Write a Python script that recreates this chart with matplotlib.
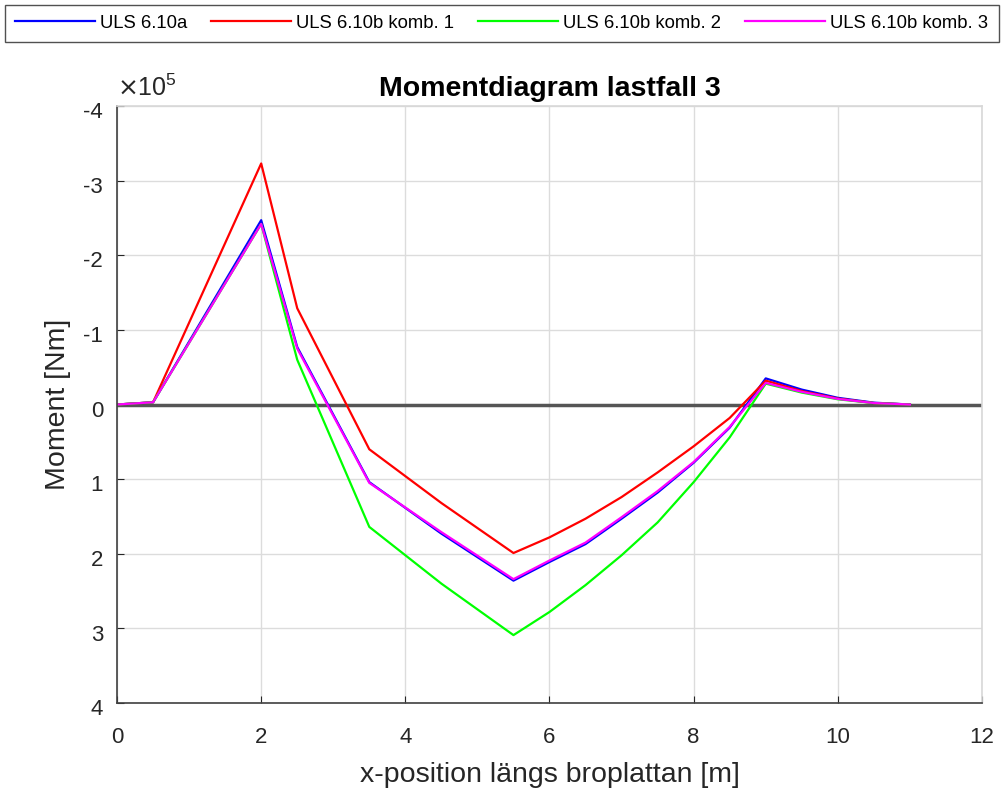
import matplotlib
matplotlib.use('Agg')
import matplotlib.pyplot as plt
import matplotlib.transforms as mtransforms

plt.rcParams['font.family'] = ['Liberation Sans', 'DejaVu Sans']
plt.rcParams['axes.unicode_minus'] = False

# moment values in units of 1e5 Nm (negative = up, axis is reversed)
x_pos = [0, 0.5, 2, 2.5, 3.5, 4.5, 5.5, 6, 6.5, 7, 7.5, 8, 8.5, 9, 9.5, 10, 10.5, 11]
uls_610a = [0, -0.03, -2.47, -0.77, 1.04, 1.73, 2.36, 2.11, 1.87, 1.53, 1.18, 0.78, 0.31,
            -0.35, -0.2, -0.09, -0.025, 0]
uls_610b_k1 = [0, -0.03, -3.23, -1.29, 0.6, 1.32, 1.99, 1.78, 1.53, 1.24, 0.91, 0.56, 0.18,
               -0.32, -0.18, -0.08, -0.02, 0]
uls_610b_k2 = [0, -0.03, -2.42, -0.6, 1.64, 2.4, 3.09, 2.78, 2.42, 2.02, 1.58, 1.04, 0.44,
               -0.28, -0.16, -0.07, -0.02, 0]
uls_610b_k3 = [0, -0.03, -2.42, -0.75, 1.05, 1.71, 2.34, 2.09, 1.85, 1.51, 1.16, 0.77, 0.3,
               -0.29, -0.17, -0.075, -0.02, 0]
labels = ['ULS 6.10a', 'ULS 6.10b komb. 1', 'ULS 6.10b komb. 2', 'ULS 6.10b komb. 3']
colors = ['#0000ff', '#ff0000', '#00ff00', '#ff00ff']

txt = '#262626'

fig = plt.figure(figsize=(10.02, 7.9), dpi=100)
ax = fig.add_axes([0.1168, 0.1101, 0.8632, 0.7557])

ax.axhline(0, color='#555555', linewidth=2.5, zorder=1)
series = [uls_610a, uls_610b_k1, uls_610b_k2, uls_610b_k3]
handles = []
for y, c, lab in zip(series, colors, labels):
    h, = ax.plot(x_pos, y, color=c, linewidth=1.6, label=lab, zorder=2)
    handles.append(h)

ax.set_xlim(0, 12)
ax.set_ylim(4, -4)
ax.set_xticks(range(0, 13, 2))
ax.set_yticks(range(-4, 5))
ax.grid(True, color='#dcdcdc', linewidth=1.0)
ax.set_axisbelow(True)
ax.tick_params(direction='in', labelsize=16, colors=txt, length=5)
ax.tick_params(axis='x', pad=17)
ax.tick_params(axis='y', pad=10)
# matlab puts the y labels a bit below the tick
offset = mtransforms.ScaledTranslation(0, -3 / 72, fig.dpi_scale_trans)
for lab in ax.get_yticklabels():
    lab.set_transform(lab.get_transform() + offset)
for s in ['left', 'bottom']:
    ax.spines[s].set_color('#404040')
    ax.spines[s].set_linewidth(1.2)
for s in ['top', 'right']:
    ax.spines[s].set_color('#d8d8d8')
    ax.spines[s].set_linewidth(1.2)

ax.set_title('Momentdiagram lastfall 3', fontsize=20.5, fontweight='bold', color='black', pad=7)
ax.set_xlabel('x-position längs broplattan [m]', fontsize=20.5, color=txt, labelpad=10)
ax.set_ylabel('Moment [Nm]', fontsize=20.5, color=txt, labelpad=9)
ax.text(0.0, 1.008, r'$\times\mathregular{10^5}$', transform=ax.transAxes, fontsize=18,
        color=txt, ha='left', va='bottom')

leg = fig.legend(handles=handles, loc='upper left', bbox_to_anchor=(0.005, 0.994),
                 ncol=4, fontsize=13.3, frameon=True, fancybox=False,
                 edgecolor='#262626', handlelength=4.3, handletextpad=0.3,
                 borderaxespad=0, columnspacing=1.3, borderpad=0.55)
leg.get_frame().set_linewidth(1.0)

fig.savefig('out.png', dpi=100)
